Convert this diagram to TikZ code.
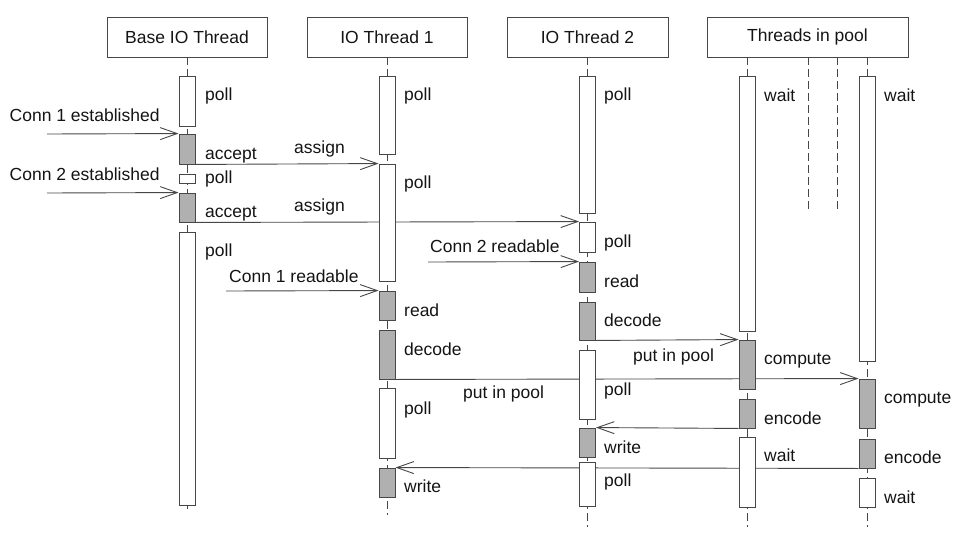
\documentclass[tikz,border=0pt]{standalone}
\usepackage{fontspec}
\setmainfont{Liberation Sans}
\usetikzlibrary{arrows.meta}
\pgfdeclarelayer{wires}
\pgfsetlayers{wires,main}

% activation bar: name, x, top, bottom, style
\newcommand{\actbar}[5]{%
  \pgfmathsetmacro\barmid{(#3+#4)/2}%
  \pgfmathsetmacro\barlen{#4-#3}%
  \node[#5, minimum height=\barlen pt] (#1) at (#2,\barmid) {};%
}

\begin{document}
\begin{tikzpicture}[x=1pt,y=-1pt,
  font=\fontsize{17.5}{21}\selectfont,
  ink/.style={draw=black!72, line width=0.9pt},
  head/.style={ink, rectangle, minimum height=40pt, inner sep=0pt, text=black!92},
  idlebar/.style={ink, fill=white, minimum width=16pt, inner sep=0pt},
  busybar/.style={ink, fill=gray!62, minimum width=16pt, inner sep=0pt},
  life/.style={ink, dash pattern=on 8pt off 4pt},
  msg/.style={ink, -{Straight Barb[length=17pt,width=12pt]}},
  lbl/.style={anchor=base west, inner sep=0pt, text=black!92},
]
\useasboundingbox (0,0) rectangle (958,538);

% lifeline heads
\node[head, minimum width=160pt] (hBase) at (187,37) {Base IO Thread};
\node[head, minimum width=160pt] (hOne) at (387,37) {IO Thread 1};
\node[head, minimum width=161pt] (hTwo) at (587.5,37) {IO Thread 2};
\node[head, minimum width=201pt] (hPool) at (807.5,37) {Threads in pool};

% Base IO thread
\actbar{bPollA}{187}{76}{126}{idlebar}
\actbar{bAccA}{187}{134}{164}{busybar}
\actbar{bPollB}{187}{174}{183}{idlebar}
\actbar{bAccB}{187}{193}{222}{busybar}
\actbar{bPollC}{187}{232}{505}{idlebar}

% IO thread 1
\actbar{oPollA}{387}{76}{154}{idlebar}
\actbar{oPollB}{387}{164}{281}{idlebar}
\actbar{oRead}{387}{291}{320}{busybar}
\actbar{oDec}{387}{330}{379}{busybar}
\actbar{oPollC}{387}{388}{458}{idlebar}
\actbar{oWrite}{387}{468}{497}{busybar}

% IO thread 2
\actbar{tPollA}{587.5}{76}{213}{idlebar}
\actbar{tPollB}{587.5}{222}{252}{idlebar}
\actbar{tRead}{587.5}{262}{292}{busybar}
\actbar{tDec}{587.5}{302}{340}{busybar}
\actbar{tPollC}{587.5}{350}{419}{idlebar}
\actbar{tWrite}{587.5}{428}{457}{busybar}
\actbar{tPollD}{587.5}{462}{506}{idlebar}

% pool worker A
\actbar{aWait}{747}{76}{331}{idlebar}
\actbar{aComp}{747}{340}{389}{busybar}
\actbar{aEnc}{747}{399}{428}{busybar}
\actbar{aWaitB}{747}{437}{507}{idlebar}

% pool worker B
\actbar{pWait}{867}{76}{361}{idlebar}
\actbar{pComp}{867}{379}{428}{busybar}
\actbar{pEnc}{867}{439}{468}{busybar}
\actbar{pWaitB}{867}{478}{507}{idlebar}

% free ends
\coordinate (bEnd) at (187,512);
\coordinate (oEnd) at (387,515);
\coordinate (tEnd) at (587.5,527);
\coordinate (aEnd) at (747,527);
\coordinate (pEnd) at (867,527);
\coordinate (sA) at (808,213);
\coordinate (sB) at (837,213);
\coordinate (cA) at (47,134);
\coordinate (cB) at (47,193);
\coordinate (cC) at (428,262);
\coordinate (cD) at (226,291);

\begin{pgfonlayer}{wires}
  % lifelines
  \draw[life] (hBase.south) -- (bEnd);
  \draw[life] (hOne.south) -- (oEnd);
  \draw[life] (hTwo.south) -- (tEnd);
  \draw[life] (hPool.south -| aEnd) -- (aEnd);
  \draw[life] (hPool.south -| pEnd) -- (pEnd);
  \draw[life] (hPool.south -| sA) -- (sA);
  \draw[life] (hPool.south -| sB) -- (sB);
  % messages
  \draw[msg] (cA) -- (bAccA.north west);
  \draw[msg] (cB) -- (bAccB.north west);
  \draw[msg] (bAccA.south east) -- (oPollB.north west);
  \draw[msg] (bAccB.south east) -- (tPollB.north west);
  \draw[msg] (cC) -- (tRead.north west);
  \draw[msg] (cD) -- (oRead.north west);
  \draw[msg] (tDec.south east) -- (aComp.north west);
  \draw[msg] (oDec.south east) -- (pComp.north west);
  \draw[msg] (aEnc.south west) -- (tWrite.north east);
  \draw[msg] (pEnc.south west) -- (oWrite.north east);
\end{pgfonlayer}

% labels: base IO thread
\node[lbl] (lb1) at (205,100) {poll};
\node[lbl] (lb2) at (205,159) {accept};
\node[lbl] (lb3) at (205,183) {poll};
\node[lbl] (lb4) at (205,217) {accept};
\node[lbl] (lb5) at (205,256) {poll};
\node[lbl] (lc1) at (9.5,121) {Conn 1 established};
\node[lbl] (lc2) at (9.5,180) {Conn 2 established};
\node[lbl] (la1) at (294,153) {assign};
\node[lbl] (la2) at (294,211) {assign};
% labels: IO thread 1
\node[lbl] (lo1) at (404,100) {poll};
\node[lbl] (lo2) at (404,188) {poll};
\node[lbl] (lo3) at (404,316) {read};
\node[lbl] (lo4) at (404,355) {decode};
\node[lbl] (lo5) at (404,414) {poll};
\node[lbl] (lo6) at (404,492) {write};
\node[lbl] (lr1) at (229,282) {Conn 1 readable};
\node[lbl] (lr2) at (430,252) {Conn 2 readable};
% labels: IO thread 2
\node[lbl] (lt1) at (604,100) {poll};
\node[lbl] (lt2) at (604,247) {poll};
\node[lbl] (lt3) at (604,287) {read};
\node[lbl] (lt4) at (604,326) {decode};
\node[lbl] (lt5) at (604,395) {poll};
\node[lbl] (lt6) at (604,453) {write};
\node[lbl] (lt7) at (604,486) {poll};
\node[lbl] (lq1) at (633,361) {put in pool};
\node[lbl] (lq2) at (463,398) {put in pool};
% labels: pool workers
\node[lbl] (lw1) at (764,101) {wait};
\node[lbl] (lw2) at (764,364) {compute};
\node[lbl] (lw3) at (764,424) {encode};
\node[lbl] (lw4) at (764,461) {wait};
\node[lbl] (lv1) at (884,101) {wait};
\node[lbl] (lv2) at (884,403) {compute};
\node[lbl] (lv3) at (884,463) {encode};
\node[lbl] (lv4) at (884,503) {wait};
\end{tikzpicture}
\end{document}
